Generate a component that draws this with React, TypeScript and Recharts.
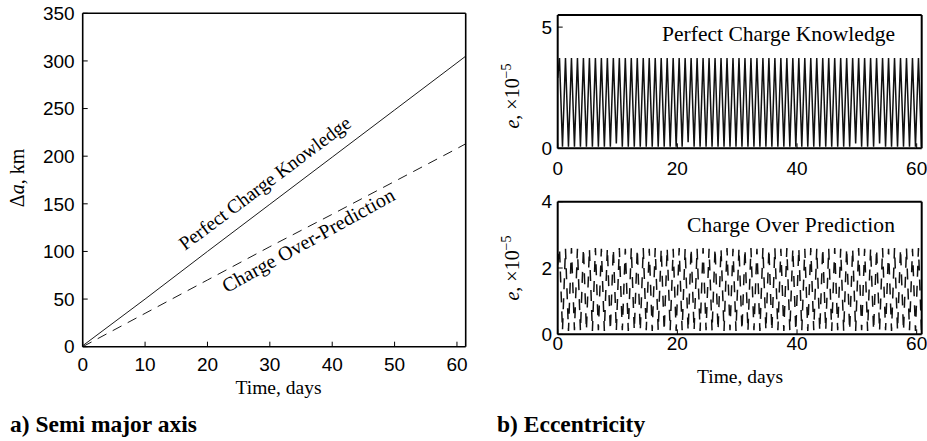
import { LineChart, Line, XAxis, YAxis } from "recharts";

// a) semi major axis growth, km
const aDays = [0, 10, 20, 30, 40, 50, 60, 61.4];
const perfectKm = [1, 50, 100, 149.5, 199, 248.5, 298, 305];
const overKm = [0, 35, 70, 105, 139, 173.5, 208, 213];
const aDayTicks = [0, 10, 20, 30, 40, 50, 60];
const aKmTicks = [0, 50, 100, 150, 200, 250, 300, 350];

// b) eccentricity, x1e-5 (peaks and troughs of each daily cycle)
const eDays = [
  0,
  0.3, 0.8, 1.3, 1.8, 2.3, 2.8, 3.3, 3.8, 4.3, 4.8, 5.3, 5.8, 6.3, 6.8, 7.3, 7.8, 8.3, 8.8, 9.3, 9.8,
  10.3, 10.8, 11.3, 11.8, 12.3, 12.8, 13.3, 13.8, 14.3, 14.8, 15.3, 15.8, 16.3, 16.8, 17.3, 17.8, 18.3, 18.8, 19.3, 19.8,
  20.3, 20.8, 21.3, 21.8, 22.3, 22.8, 23.3, 23.8, 24.3, 24.8, 25.3, 25.8, 26.3, 26.8, 27.3, 27.8, 28.3, 28.8, 29.3, 29.8,
  30.3, 30.8, 31.3, 31.8, 32.3, 32.8, 33.3, 33.8, 34.3, 34.8, 35.3, 35.8, 36.3, 36.8, 37.3, 37.8, 38.3, 38.8, 39.3, 39.8,
  40.3, 40.8, 41.3, 41.8, 42.3, 42.8, 43.3, 43.8, 44.3, 44.8, 45.3, 45.8, 46.3, 46.8, 47.3, 47.8, 48.3, 48.8, 49.3, 49.8,
  50.3, 50.8, 51.3, 51.8, 52.3, 52.8, 53.3, 53.8, 54.3, 54.8, 55.3, 55.8, 56.3, 56.8, 57.3, 57.8, 58.3, 58.8, 59.3, 59.8,
  60.3, 60.8,
];
const eKnown = [
  2.9,
  3.72, 0.07, 3.72, 0.07, 3.72, 0.07, 3.72, 0.07, 3.72, 0.07, 3.72, 0.07, 3.72, 0.07, 3.72, 0.07, 3.72, 0.07, 3.72, 0.2,
  3.72, 0.07, 3.72, 0.07, 3.72, 0.07, 3.72, 0.07, 3.72, 0.07, 3.72, 0.07, 3.72, 0.07, 3.72, 0.07, 3.72, 0.07, 3.72, 0.07,
  3.72, 0.07, 3.72, 0.25, 3.72, 0.07, 3.72, 0.07, 3.72, 0.07, 3.72, 0.07, 3.72, 0.07, 3.72, 0.07, 3.72, 0.07, 3.72, 0.07,
  3.72, 0.07, 3.72, 0.07, 3.72, 0.07, 3.72, 0.07, 3.72, 0.07, 3.72, 0.07, 3.72, 0.07, 3.72, 0.07, 3.72, 0.07, 3.72, 0.07,
  3.72, 0.07, 3.72, 0.07, 3.72, 0.07, 3.72, 0.07, 3.72, 0.07, 3.72, 0.07, 3.72, 0.07, 3.72, 0.07, 3.72, 0.07, 3.72, 0.2,
  3.72, 0.07, 3.72, 0.07, 3.72, 0.07, 3.72, 0.2, 3.72, 0.07, 3.72, 0.07, 3.72, 0.07, 3.72, 0.07, 3.72, 0.07, 3.72, 0.07,
  3.72, 0.07,
];
const eOver = [
  2.1,
  2.6, 0.12, 2.58, 0.1, 2.6, 0.12, 2.58, 0.1, 2.6, 0.12, 2.58, 0.1, 2.6, 0.12, 2.58, 0.1, 2.6, 0.12, 2.58, 0.1,
  2.6, 0.12, 2.58, 0.1, 2.6, 0.12, 2.58, 0.1, 2.6, 0.12, 2.58, 0.1, 2.6, 0.12, 2.58, 0.1, 2.6, 0.12, 2.58, 0.1,
  2.6, 0.12, 2.58, 0.1, 2.6, 0.12, 2.58, 0.1, 2.6, 0.12, 2.58, 0.1, 2.6, 0.12, 2.58, 0.1, 2.6, 0.12, 2.58, 0.1,
  2.6, 0.12, 2.58, 0.1, 2.6, 0.12, 2.58, 0.1, 2.6, 0.12, 2.58, 0.1, 2.6, 0.12, 2.58, 0.1, 2.6, 0.12, 2.58, 0.1,
  2.6, 0.12, 2.58, 0.1, 2.6, 0.12, 2.58, 0.1, 2.6, 0.12, 2.58, 0.1, 2.6, 0.12, 2.58, 0.1, 2.6, 0.12, 2.58, 0.1,
  2.6, 0.12, 2.58, 0.1, 2.6, 0.12, 2.58, 0.1, 2.6, 0.12, 2.58, 0.1, 2.6, 0.12, 2.58, 0.1, 2.6, 0.12, 2.58, 0.1,
  2.6, 0.12,
];
const eDayTicks = [0, 20, 40, 60];
const eKnownTicks = [0, 5];
const eOverTicks = [0, 2, 4];

const aData = aDays.map((d, i) => ({ day: d, perfect: perfectKm[i], over: overKm[i] }));
const eData = eDays.map((d, i) => ({ day: d, known: eKnown[i], over: eOver[i] }));

const sans = "'Liberation Sans', Arial, Helvetica, sans-serif";
const serif = "'Liberation Serif', 'Times New Roman', serif";
const tickFont = { fontSize: 19, fill: "#000", fontFamily: sans };

// matlab style box: inward ticks on all four sides, labels only bottom/left
function boxAxes(
  xDomain: number[],
  xTicks: number[],
  yDomain: number[],
  yTicks: number[],
  lineW: number,
  xGap: number,
  yGap: number,
  xHeight: number
) {
  const line = { stroke: "#000", strokeWidth: lineW };
  const tl = { stroke: "#000", strokeWidth: 1 };
  return [
    <XAxis key="xb" xAxisId="b" type="number" dataKey="day" domain={xDomain} ticks={xTicks}
      allowDataOverflow interval={0} tickSize={-5} tickMargin={xGap} height={xHeight}
      axisLine={line} tickLine={tl} tick={tickFont} />,
    <XAxis key="xt" xAxisId="t" orientation="top" type="number" dataKey="day" domain={xDomain}
      ticks={xTicks} allowDataOverflow interval={0} tickSize={-5} height={1}
      axisLine={line} tickLine={tl} tick={false} />,
    <YAxis key="yl" yAxisId="l" type="number" domain={yDomain} ticks={yTicks}
      allowDataOverflow interval={0} tickSize={-5} tickMargin={yGap} width={40}
      axisLine={line} tickLine={tl} tick={tickFont} />,
    <YAxis key="yr" yAxisId="r" orientation="right" type="number" domain={yDomain}
      ticks={yTicks} allowDataOverflow interval={0} tickSize={-5} width={1}
      axisLine={line} tickLine={tl} tick={false} />,
  ];
}

export default function App() {
  return (
    <div style={{ position: "absolute", left: 0, top: 0, width: 927, height: 441, background: "#fff" }}>
      <div style={{ position: "absolute", left: 0, top: 0 }}>
        <LineChart width={480} height={400} data={aData}
          margin={{ top: 12.3, right: 13.3, bottom: 23.3, left: 42.7 }}>
          {boxAxes([0, 61.4], aDayTicks, [0, 350], aKmTicks, 1.6, 16.3, 13, 30)}
          <Line xAxisId="b" yAxisId="l" type="linear" dataKey="perfect" stroke="#1a1a1a"
            strokeWidth={1} dot={false} isAnimationActive={false} />
          <Line xAxisId="b" yAxisId="l" type="linear" dataKey="over" stroke="#1a1a1a"
            strokeWidth={1} strokeDasharray="10 7" dot={false} isAnimationActive={false} />
          {/* keeps the top and right frame axes alive */}
          <Line xAxisId="t" yAxisId="r" type="linear" dataKey="perfect" stroke="none"
            dot={false} activeDot={false} isAnimationActive={false} />
        </LineChart>
      </div>

      <div style={{ position: "absolute", left: 480, top: 0 }}>
        <LineChart width={447} height={200} data={eData}
          margin={{ top: 14, right: 4.3, bottom: 21.7, left: 37.7 }}>
          {boxAxes([0, 60.84], eDayTicks, [0, 5.5], eKnownTicks, 2, 18.4, 10.7, 30)}
          <Line xAxisId="b" yAxisId="l" type="linear" dataKey="known" stroke="#111"
            strokeWidth={1.5} dot={false} isAnimationActive={false} />
          <Line xAxisId="t" yAxisId="r" type="linear" dataKey="known" stroke="none"
            dot={false} activeDot={false} isAnimationActive={false} />
        </LineChart>
      </div>

      <div style={{ position: "absolute", left: 480, top: 190 }}>
        <LineChart width={447} height={170} data={eData}
          margin={{ top: 10.7, right: 4.3, bottom: 5.7, left: 37.7 }}>
          {boxAxes([0, 60.84], eDayTicks, [0, 4], eOverTicks, 2, 7.4, 10.7, 20)}
          <Line xAxisId="b" yAxisId="l" type="linear" dataKey="over" stroke="#111"
            strokeWidth={1.5} strokeDasharray="11 9" dot={false} isAnimationActive={false} />
          <Line xAxisId="t" yAxisId="r" type="linear" dataKey="over" stroke="none"
            dot={false} activeDot={false} isAnimationActive={false} />
        </LineChart>
      </div>

      <svg width={927} height={441} style={{ position: "absolute", left: 0, top: 0, pointerEvents: "none" }}
        fontFamily={serif} fill="#000">
        <text transform="translate(24,178) rotate(-90)" textAnchor="middle" fontSize={20}>
          Δ<tspan fontStyle="italic">a</tspan>, km
        </text>
        <text x={278.5} y={394} textAnchor="middle" fontSize={19.5}>Time, days</text>
        <text transform="translate(185,251) rotate(-36.8)" fontSize={19.5} textLength={209}
          lengthAdjust="spacing">Perfect Charge Knowledge</text>
        <text transform="translate(226.7,293.3) rotate(-29)" fontSize={20} textLength={194}
          lengthAdjust="spacing">Charge Over-Prediction</text>

        <text x={662} y={40.7} fontSize={21.5} textLength={233} lengthAdjust="spacing">
          Perfect Charge Knowledge
        </text>
        <text x={687} y={231.7} fontSize={21.5} textLength={208} lengthAdjust="spacing">
          Charge Over Prediction
        </text>
        <text transform="translate(519,96) rotate(-90)" textAnchor="middle" fontSize={20}>
          <tspan fontStyle="italic">e</tspan>, ×10<tspan dy={-8} fontSize={14}>−5</tspan>
        </text>
        <text transform="translate(519,268) rotate(-90)" textAnchor="middle" fontSize={20}>
          <tspan fontStyle="italic">e</tspan>, ×10<tspan dy={-8} fontSize={14}>−5</tspan>
        </text>
        <text x={740} y={383} textAnchor="middle" fontSize={19.5}>Time, days</text>

        <text x={10} y={432} fontSize={23.5} fontWeight="bold">a) Semi major axis</text>
        <text x={497} y={432} fontSize={23.5} fontWeight="bold">b) Eccentricity</text>
      </svg>
    </div>
  );
}
